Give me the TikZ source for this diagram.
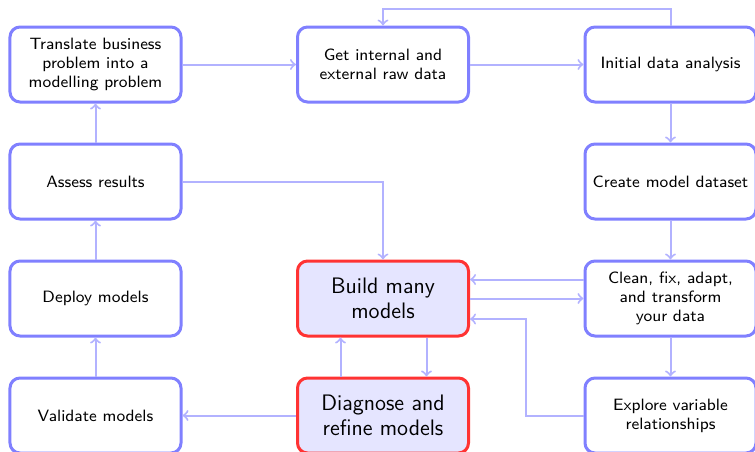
\documentclass[tikz,border=0pt]{standalone}
\usetikzlibrary{positioning}
\tikzset{
    stage/.style={draw=blue!50, line width=1.5pt, rounded corners=5pt, align=center, inner sep=2pt,
        minimum width=85.5pt, minimum height=37.5pt, font=\sffamily\fontsize{8.2}{9.4}\selectfont},
    core/.style={stage, draw=red!80, fill=blue!10, font=\sffamily\fontsize{11.2}{12.8}\selectfont},
    flow/.style={->, draw=blue!30, line width=1pt}
}
\begin{document}
\begin{tikzpicture}[on grid, node distance=58.5pt and 143.75pt]
        \useasboundingbox (-47.75pt,32.25pt) rectangle (329.75pt,-193.25pt);
        % top row
        \node[stage] (translate) at (0,0) {Translate business\\problem into a\\modelling problem};
        \node[stage, right=of translate] (rawdata) {Get internal and\\external raw data};
        \node[stage, right=of rawdata] (initial) {Initial data analysis};
        % right column
        \node[stage, below=of initial] (dataset) {Create model dataset};
        \node[stage, below=of dataset] (clean) {Clean, fix, adapt,\\and transform\\your data};
        \node[stage, below=of clean] (explore) {Explore variable\\relationships};
        % left column
        \node[stage, below=of translate] (assess) {Assess results};
        \node[stage, below=of assess] (deploy) {Deploy models};
        \node[stage, below=of deploy] (validate) {Validate models};
        % middle
        \node[core, left=of clean] (build) {Build many\\models};
        \node[core, below=of build] (diagnose) {Diagnose and\\refine models};

        \draw[flow] (translate) -- (rawdata);
        \draw[flow] (rawdata) -- (initial);
        \draw[flow] (initial.north) -- ++(0,8.5pt) -| (rawdata.north);
        \draw[flow] (initial) -- (dataset);
        \draw[flow] (dataset) -- (clean);
        \draw[flow] (clean) -- (explore);
        \draw[flow] ([yshift=9.5pt]clean.west) -- ([yshift=9.5pt]build.east);
        \draw[flow] (build) -- (clean);
        \draw[flow] (explore.west) -- ++(-29pt,0) |- ([yshift=-10.25pt]build.east);
        \draw[flow] (assess.east) -| (build.north);
        \draw[flow] ([xshift=21.75pt]build.south) -- ([xshift=21.75pt]diagnose.north);
        \draw[flow] ([xshift=-21.25pt]diagnose.north) -- ([xshift=-21.25pt]build.south);
        \draw[flow] (diagnose) -- (validate);
        \draw[flow] (validate) -- (deploy);
        \draw[flow] (deploy) -- (assess);
        \draw[flow] (assess) -- (translate);
\end{tikzpicture}
\end{document}
